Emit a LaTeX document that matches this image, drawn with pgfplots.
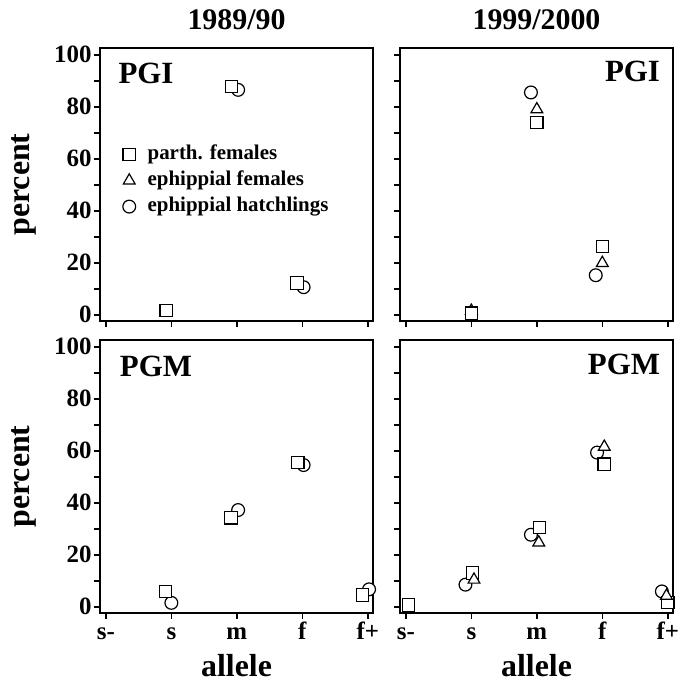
\documentclass[border=0pt]{standalone}
\usepackage{fontspec}
\setmainfont{Liberation Serif}
\usepackage{pgfplots}
\pgfplotsset{compat=1.18}
\pgfplotsset{
  panel/.style={
    scale only axis, width=273bp, height=273bp,
    xmin=-0.09, xmax=4.08, ymin=-2.4, ymax=102.6,
    xtick={0,1,2,3,4}, xticklabels={s-,s,m,f,f+},
    ytick={0,20,...,100}, minor ytick={10,30,...,90},
    tick pos=left, tick align=outside,
    major tick length=6bp, minor tick length=6bp,
    every tick/.style={line width=1.5bp, black},
    axis line style={line width=1.6bp},
    /pgf/number format/assume math mode=true,
    ticklabel style={font=\fontsize{25}{25}\selectfont\bfseries},
    yticklabel style={xshift=1bp},
    xticklabel style={text height=17bp, text depth=0pt},
    every axis y label/.style={at={(rel axis cs:-0.258,0.5)}, rotate=90, anchor=base},
    every axis x label/.style={at={(rel axis cs:0.5,-0.232)}, anchor=base, inner sep=0pt},
    label style={font=\fontsize{32}{32}\selectfont\bfseries},
    title style={font=\fontsize{30}{30}\selectfont\bfseries, at={(0.5,1)}, anchor=base, yshift=13bp},
    clip=false,
  },
  sq/.style={only marks, mark=square*, mark size=6.2bp, mark options={fill=white, draw=black, line width=1.2bp}},
  tr/.style={only marks, mark=triangle*, mark size=6.8bp, mark options={fill=white, draw=black, line width=1.2bp}},
  ci/.style={only marks, mark=*, mark size=6.4bp, mark options={fill=white, draw=black, line width=1.2bp}},
}
\newcommand{\plab}{\fontsize{31}{31}\selectfont\bfseries}
\begin{document}
\begin{tikzpicture}
\path[use as bounding box] (0,0) rectangle (683bp,683bp);
% top left: PGI 1989/90
\begin{axis}[panel, at={(100bp,362bp)}, anchor=south west,
  xticklabels={}, title={1989/90}, ylabel={percent},
  legend style={at={(rel axis cs:0.072,0.656)}, anchor=north west, draw=none, fill=none,
    font=\fontsize{21}{21}\selectfont\bfseries, row sep=5bp, column sep=10bp,
    nodes={inner ysep=1bp, text height=14bp, text depth=5bp}},
  legend cell align=left]
\addlegendimage{sq}\addlegendentry{parth. females}
\addlegendimage{tr}\addlegendentry{ephippial females}
\addlegendimage{ci}\addlegendentry{ephippial hatchlings}
\addplot[ci, forget plot] coordinates {(2.02,86.5) (3.02,10.6)};
\addplot[sq, forget plot] coordinates {(0.92,1.7) (1.92,87.8) (2.92,12.2)};
\node[anchor=base west, font=\plab] at (rel axis cs:0.055,0.871) {PGI};
\end{axis}
% top right: PGI 1999/2000
\begin{axis}[panel, at={(400bp,362bp)}, anchor=south west,
  xticklabels={}, yticklabels={}, title={1999/2000}]
\addplot[ci] coordinates {(1.91,85.5) (2.9,15.2)};
\addplot[tr] coordinates {(1.0,1.5) (2.0,79.0) (3.0,19.9)};
\addplot[sq] coordinates {(1.0,0.6) (2.0,73.9) (3.0,26.3)};
\node[anchor=base east, font=\plab] at (rel axis cs:0.965,0.879) {PGI};
\end{axis}
% bottom left: PGM 1989/90
\begin{axis}[panel, at={(100bp,70bp)}, anchor=south west,
  ylabel={percent}, xlabel={allele}]
\addplot[ci] coordinates {(1.0,1.5) (2.02,37.2) (3.02,54.5) (4.02,6.7)};
\addplot[sq] coordinates {(0.91,5.8) (1.91,34.2) (2.93,55.5) (3.92,4.5)};
\node[anchor=base west, font=\plab] at (rel axis cs:0.06,0.866) {PGM};
\end{axis}
% bottom right: PGM 1999/2000
\begin{axis}[panel, at={(400bp,70bp)}, anchor=south west,
  yticklabels={}, xlabel={allele}]
\addplot[ci] coordinates {(0.91,8.5) (1.91,27.7) (2.92,59.3) (3.91,5.9)};
\addplot[sq] coordinates {(0.04,0.7) (1.02,13.0) (2.04,30.5) (3.03,54.8) (4.0,1.6)};
\addplot[tr] coordinates {(1.04,10.4) (2.03,24.7) (3.03,61.5) (3.98,4.2)};
\node[anchor=base east, font=\plab] at (rel axis cs:0.965,0.872) {PGM};
\end{axis}
\end{tikzpicture}
\end{document}
